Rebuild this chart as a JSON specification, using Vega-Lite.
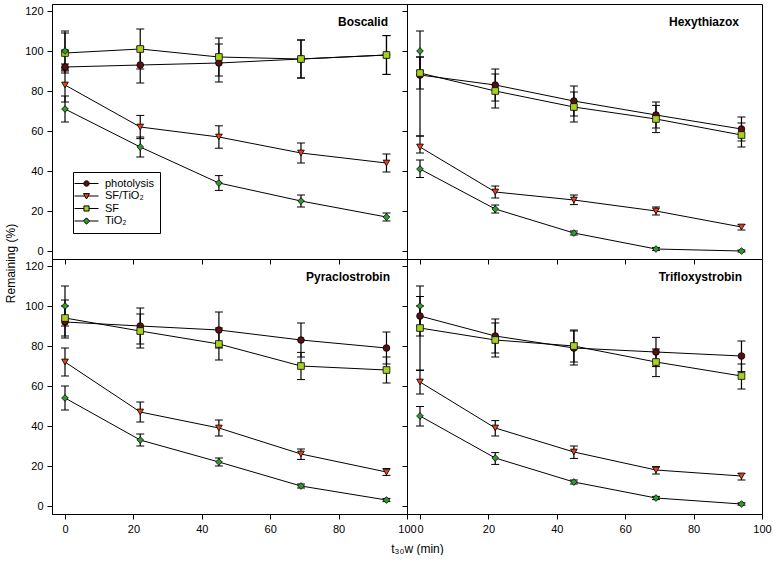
{
  "$schema": "https://vega.github.io/schema/vega-lite/v6.json",
  "padding": {"left": 3, "top": 3, "right": 0, "bottom": 0},
  "data": {"values": [
    {"c":"Boscalid","s":"photolysis","t":0,"v":92,"up":1.5,"dn":-1.5},
    {"c":"Boscalid","s":"photolysis","t":22,"v":93,"up":9,"dn":-9},
    {"c":"Boscalid","s":"photolysis","t":45,"v":94,"up":9.5,"dn":-9.5},
    {"c":"Boscalid","s":"photolysis","t":69,"v":96,"up":9.5,"dn":-9.5},
    {"c":"Boscalid","s":"photolysis","t":94,"v":98,"up":9.7,"dn":-9.7},
    {"c":"Boscalid","s":"SF/TiO₂","t":0,"v":83,"up":8.5,"dn":-8.5},
    {"c":"Boscalid","s":"SF/TiO₂","t":22,"v":62,"up":5.8,"dn":-5.8},
    {"c":"Boscalid","s":"SF/TiO₂","t":45,"v":57,"up":5.6,"dn":-5.6},
    {"c":"Boscalid","s":"SF/TiO₂","t":69,"v":49,"up":5,"dn":-5},
    {"c":"Boscalid","s":"SF/TiO₂","t":94,"v":44,"up":4.5,"dn":-4.5},
    {"c":"Boscalid","s":"SF","t":0,"v":99,"up":10,"dn":-10},
    {"c":"Boscalid","s":"SF","t":22,"v":101,"up":10,"dn":-10},
    {"c":"Boscalid","s":"SF","t":45,"v":97,"up":9.5,"dn":-9.5},
    {"c":"Boscalid","s":"SF","t":69,"v":96,"up":9.5,"dn":-9.5},
    {"c":"Boscalid","s":"SF","t":94,"v":98,"up":9.7,"dn":-9.7},
    {"c":"Boscalid","s":"TiO₂","t":0,"v":71,"up":6.5,"dn":-6.5},
    {"c":"Boscalid","s":"TiO₂","t":22,"v":52,"up":5,"dn":-5},
    {"c":"Boscalid","s":"TiO₂","t":45,"v":34,"up":3.7,"dn":-3.7},
    {"c":"Boscalid","s":"TiO₂","t":69,"v":25,"up":3,"dn":-3},
    {"c":"Boscalid","s":"TiO₂","t":94,"v":17,"up":2,"dn":-2},
    {"c":"Boscalid","s":"TiO₂","t":0,"v":100,"up":10,"dn":-10,"init":1},

    {"c":"Hexythiazox","s":"photolysis","t":0,"v":88,"up":9,"dn":-30.5},
    {"c":"Hexythiazox","s":"photolysis","t":22,"v":83,"up":8,"dn":-8},
    {"c":"Hexythiazox","s":"photolysis","t":45,"v":75,"up":7.5,"dn":-7.5},
    {"c":"Hexythiazox","s":"photolysis","t":69,"v":68,"up":6.5,"dn":-6.5},
    {"c":"Hexythiazox","s":"photolysis","t":94,"v":61,"up":6,"dn":-6},
    {"c":"Hexythiazox","s":"SF/TiO₂","t":0,"v":52,"up":5.5,"dn":-3},
    {"c":"Hexythiazox","s":"SF/TiO₂","t":22,"v":29.5,"up":3,"dn":-3},
    {"c":"Hexythiazox","s":"SF/TiO₂","t":45,"v":25.5,"up":2.5,"dn":-2.3},
    {"c":"Hexythiazox","s":"SF/TiO₂","t":69,"v":20,"up":2,"dn":-2},
    {"c":"Hexythiazox","s":"SF/TiO₂","t":94,"v":12,"up":1.2,"dn":-1.5},
    {"c":"Hexythiazox","s":"SF","t":0,"v":89,"up":8,"dn":-8},
    {"c":"Hexythiazox","s":"SF","t":22,"v":80,"up":8.5,"dn":-8.5},
    {"c":"Hexythiazox","s":"SF","t":45,"v":72,"up":7.5,"dn":-7.5},
    {"c":"Hexythiazox","s":"SF","t":69,"v":66,"up":6.8,"dn":-6.8},
    {"c":"Hexythiazox","s":"SF","t":94,"v":58,"up":6,"dn":-6},
    {"c":"Hexythiazox","s":"TiO₂","t":0,"v":41,"up":4.5,"dn":-4.3},
    {"c":"Hexythiazox","s":"TiO₂","t":22,"v":21,"up":2,"dn":-2},
    {"c":"Hexythiazox","s":"TiO₂","t":45,"v":9,"up":1,"dn":-1},
    {"c":"Hexythiazox","s":"TiO₂","t":69,"v":1,"up":0.7,"dn":-0.7},
    {"c":"Hexythiazox","s":"TiO₂","t":94,"v":0,"up":0.5,"dn":-0.5},
    {"c":"Hexythiazox","s":"TiO₂","t":0,"v":100,"up":10,"dn":-10,"init":1},

    {"c":"Pyraclostrobin","s":"photolysis","t":0,"v":92,"up":8,"dn":-8},
    {"c":"Pyraclostrobin","s":"photolysis","t":22,"v":90,"up":9,"dn":-9},
    {"c":"Pyraclostrobin","s":"photolysis","t":45,"v":88,"up":9,"dn":-9},
    {"c":"Pyraclostrobin","s":"photolysis","t":69,"v":83,"up":8.5,"dn":-8.5},
    {"c":"Pyraclostrobin","s":"photolysis","t":94,"v":79,"up":8,"dn":-8},
    {"c":"Pyraclostrobin","s":"SF/TiO₂","t":0,"v":72,"up":7,"dn":-7},
    {"c":"Pyraclostrobin","s":"SF/TiO₂","t":22,"v":47,"up":5,"dn":-5},
    {"c":"Pyraclostrobin","s":"SF/TiO₂","t":45,"v":39,"up":4,"dn":-4},
    {"c":"Pyraclostrobin","s":"SF/TiO₂","t":69,"v":26,"up":2.5,"dn":-2.7},
    {"c":"Pyraclostrobin","s":"SF/TiO₂","t":94,"v":17,"up":1.7,"dn":-1.7},
    {"c":"Pyraclostrobin","s":"SF","t":0,"v":94,"up":9,"dn":-9},
    {"c":"Pyraclostrobin","s":"SF","t":22,"v":87.5,"up":8.5,"dn":-8.5},
    {"c":"Pyraclostrobin","s":"SF","t":45,"v":81,"up":8,"dn":-8},
    {"c":"Pyraclostrobin","s":"SF","t":69,"v":70,"up":6.8,"dn":-6.8},
    {"c":"Pyraclostrobin","s":"SF","t":94,"v":68,"up":6.5,"dn":-6.5},
    {"c":"Pyraclostrobin","s":"TiO₂","t":0,"v":54,"up":6,"dn":-6},
    {"c":"Pyraclostrobin","s":"TiO₂","t":22,"v":33,"up":3,"dn":-3},
    {"c":"Pyraclostrobin","s":"TiO₂","t":45,"v":22,"up":2,"dn":-2},
    {"c":"Pyraclostrobin","s":"TiO₂","t":69,"v":10,"up":1,"dn":-1},
    {"c":"Pyraclostrobin","s":"TiO₂","t":94,"v":3,"up":0.8,"dn":-0.8},
    {"c":"Pyraclostrobin","s":"TiO₂","t":0,"v":100,"up":10,"dn":-10,"init":1},

    {"c":"Trifloxystrobin","s":"photolysis","t":0,"v":95,"up":9.7,"dn":-10},
    {"c":"Trifloxystrobin","s":"photolysis","t":22,"v":85,"up":8.5,"dn":-8.5},
    {"c":"Trifloxystrobin","s":"photolysis","t":45,"v":79,"up":8.5,"dn":-8.5},
    {"c":"Trifloxystrobin","s":"photolysis","t":69,"v":77,"up":7.3,"dn":-7.3},
    {"c":"Trifloxystrobin","s":"photolysis","t":94,"v":75,"up":7.5,"dn":-7.8},
    {"c":"Trifloxystrobin","s":"SF/TiO₂","t":0,"v":62,"up":5.7,"dn":-6},
    {"c":"Trifloxystrobin","s":"SF/TiO₂","t":22,"v":39,"up":3.7,"dn":-4},
    {"c":"Trifloxystrobin","s":"SF/TiO₂","t":45,"v":27,"up":3,"dn":-3.2},
    {"c":"Trifloxystrobin","s":"SF/TiO₂","t":69,"v":18,"up":1.7,"dn":-2},
    {"c":"Trifloxystrobin","s":"SF/TiO₂","t":94,"v":15,"up":1.3,"dn":-2},
    {"c":"Trifloxystrobin","s":"SF","t":0,"v":89,"up":11,"dn":-21},
    {"c":"Trifloxystrobin","s":"SF","t":22,"v":83,"up":8.5,"dn":-8.5},
    {"c":"Trifloxystrobin","s":"SF","t":45,"v":80,"up":8,"dn":-8},
    {"c":"Trifloxystrobin","s":"SF","t":69,"v":72,"up":6.5,"dn":-7.3},
    {"c":"Trifloxystrobin","s":"SF","t":94,"v":65,"up":6,"dn":-6.5},
    {"c":"Trifloxystrobin","s":"TiO₂","t":0,"v":45,"up":4.7,"dn":-5},
    {"c":"Trifloxystrobin","s":"TiO₂","t":22,"v":24,"up":2.7,"dn":-3.2},
    {"c":"Trifloxystrobin","s":"TiO₂","t":45,"v":12,"up":1,"dn":-1},
    {"c":"Trifloxystrobin","s":"TiO₂","t":69,"v":4,"up":0.8,"dn":-0.8},
    {"c":"Trifloxystrobin","s":"TiO₂","t":94,"v":1,"up":0.6,"dn":-0.6},
    {"c":"Trifloxystrobin","s":"TiO₂","t":0,"v":100,"up":10,"dn":-10,"init":1}
  ]},
  "columns": 2,
  "spacing": 0,
  "bounds": "flush",
  "concat": [
    {
      "width": 355, "height": 255,
      "title": {"text": "Boscalid", "anchor": "end", "frame": "group", "offset": -30, "baseline": "middle", "dx": -19},
      "transform": [{"filter": "datum.c == 'Boscalid'"}],
      "encoding": {
        "x": {"field": "t", "type": "quantitative", "scale": {"domain": [-3.8, 100], "nice": false, "zero": false},
              "axis": {"values": [0,20,40,60,80,100], "labels": false, "title": null}},
        "y": {"field": "v", "type": "quantitative", "scale": {"domain": [-4, 123.5], "nice": false, "zero": false},
              "axis": {"values": [0,20,40,60,80,100,120], "title": "Remaining (%)", "titleX": -42, "titleY": 259, "titleBaseline": "middle"}}
      },
      "layer": [
        {"mark": {"type": "errorbar", "color": "black", "ticks": {"size": 8, "color": "black", "strokeWidth": 1.2, "opacity": 1}, "rule": {"color": "black", "strokeWidth": 1.2, "opacity": 1}},
         "encoding": {"yError": {"field": "up"}, "yError2": {"field": "dn"}}},
        {"transform": [{"filter": "!datum.init"}], "mark": {"type": "line", "color": "black", "strokeWidth": 1},
         "encoding": {"detail": {"field": "s"}}},
        {"mark": {"type": "point", "filled": true, "opacity": 1, "stroke": "black", "strokeWidth": 0.8, "size": 45},
         "encoding": {
           "color": {"field": "s", "type": "nominal",
             "scale": {"domain": ["photolysis","SF/TiO₂","SF","TiO₂"], "range": ["#5a1010","#e8401c","#a8d020","#2e9a2e"]},
             "legend": {"title": null, "orient": "none", "legendX": 21, "legendY": 168, "strokeColor": "black", "fillColor": "white",
               "padding": 6, "symbolSize": 36, "labelFontSize": 11, "labelColor": "black", "labelOffset": 13, "symbolOffset": 2, "rowPadding": 0.5,
               "symbolStrokeColor": "black", "symbolStrokeWidth": 1,
               "encoding": {"symbols": {"stroke": {"value": "black"}, "shape": {"value": {"expr": "datum.value == 'photolysis' ? 'M-4,0H-0.9M0.9,0H4M0.9,0A0.9,0.9 0 1 1 -0.9,0A0.9,0.9 0 1 1 0.9,0Z' : datum.value == 'SF' ? 'M-4,0H-0.85M0.85,0H4M-0.85,-0.85H0.85V0.85H-0.85Z' : datum.value == 'TiO₂' ? 'M-4,0H-1.05M1.05,0H4M0,-1.05L1.05,0L0,1.05L-1.05,0Z' : 'M-4,0H-0.5M0.5,0H4M-1,-0.8L1,-0.8L0,1Z'"}}}}}},
           "shape": {"field": "s", "type": "nominal",
             "scale": {"domain": ["photolysis","SF/TiO₂","SF","TiO₂","-"], "range": ["circle","triangle-down","square","diamond","circle"]}, "legend": null}
         }}
      ]
    },
    {
      "width": 355, "height": 255,
      "title": {"text": "Hexythiazox", "anchor": "end", "frame": "group", "offset": -30, "baseline": "middle", "dx": -23},
      "transform": [{"filter": "datum.c == 'Hexythiazox'"}],
      "encoding": {
        "x": {"field": "t", "type": "quantitative", "scale": {"domain": [-3.8, 100], "nice": false, "zero": false},
              "axis": {"values": [0,20,40,60,80,100], "labels": false, "title": null}},
        "y": {"field": "v", "type": "quantitative", "scale": {"domain": [-4, 123.5], "nice": false, "zero": false},
              "axis": {"values": [0,20,40,60,80,100,120], "labels": false, "title": null}}
      },
      "layer": [
        {"mark": {"type": "errorbar", "color": "black", "ticks": {"size": 8, "color": "black", "strokeWidth": 1.2, "opacity": 1}, "rule": {"color": "black", "strokeWidth": 1.2, "opacity": 1}},
         "encoding": {"yError": {"field": "up"}, "yError2": {"field": "dn"}}},
        {"transform": [{"filter": "!datum.init"}], "mark": {"type": "line", "color": "black", "strokeWidth": 1},
         "encoding": {"detail": {"field": "s"}}},
        {"mark": {"type": "point", "filled": true, "opacity": 1, "stroke": "black", "strokeWidth": 0.8, "size": 45},
         "encoding": {
           "color": {"field": "s", "type": "nominal",
             "scale": {"domain": ["photolysis","SF/TiO₂","SF","TiO₂"], "range": ["#5a1010","#e8401c","#a8d020","#2e9a2e"]}, "legend": null},
           "shape": {"field": "s", "type": "nominal",
             "scale": {"domain": ["photolysis","SF/TiO₂","SF","TiO₂","-"], "range": ["circle","triangle-down","square","diamond","circle"]}, "legend": null}
         }}
      ]
    },
    {
      "width": 355, "height": 255,
      "title": {"text": "Pyraclostrobin", "anchor": "end", "frame": "group", "offset": -30, "baseline": "middle", "dx": -17},
      "transform": [{"filter": "datum.c == 'Pyraclostrobin'"}],
      "encoding": {
        "x": {"field": "t", "type": "quantitative", "scale": {"domain": [-3.8, 100], "nice": false, "zero": false},
              "axis": {"values": [0,20,40,60,80,100], "title": "t₃₀w (min)", "titleX": 365, "titleY": 34, "titleBaseline": "middle"}},
        "y": {"field": "v", "type": "quantitative", "scale": {"domain": [-4, 123.5], "nice": false, "zero": false},
              "axis": {"values": [0,20,40,60,80,100,120], "title": null}}
      },
      "layer": [
        {"mark": {"type": "errorbar", "color": "black", "ticks": {"size": 8, "color": "black", "strokeWidth": 1.2, "opacity": 1}, "rule": {"color": "black", "strokeWidth": 1.2, "opacity": 1}},
         "encoding": {"yError": {"field": "up"}, "yError2": {"field": "dn"}}},
        {"transform": [{"filter": "!datum.init"}], "mark": {"type": "line", "color": "black", "strokeWidth": 1},
         "encoding": {"detail": {"field": "s"}}},
        {"mark": {"type": "point", "filled": true, "opacity": 1, "stroke": "black", "strokeWidth": 0.8, "size": 45},
         "encoding": {
           "color": {"field": "s", "type": "nominal",
             "scale": {"domain": ["photolysis","SF/TiO₂","SF","TiO₂"], "range": ["#5a1010","#e8401c","#a8d020","#2e9a2e"]}, "legend": null},
           "shape": {"field": "s", "type": "nominal",
             "scale": {"domain": ["photolysis","SF/TiO₂","SF","TiO₂","-"], "range": ["circle","triangle-down","square","diamond","circle"]}, "legend": null}
         }}
      ]
    },
    {
      "width": 355, "height": 255,
      "title": {"text": "Trifloxystrobin", "anchor": "end", "frame": "group", "offset": -30, "baseline": "middle", "dx": -20},
      "transform": [{"filter": "datum.c == 'Trifloxystrobin'"}],
      "encoding": {
        "x": {"field": "t", "type": "quantitative", "scale": {"domain": [-3.8, 100], "nice": false, "zero": false},
              "axis": {"values": [0,20,40,60,80,100], "title": null}},
        "y": {"field": "v", "type": "quantitative", "scale": {"domain": [-4, 123.5], "nice": false, "zero": false},
              "axis": {"values": [0,20,40,60,80,100,120], "labels": false, "title": null}}
      },
      "layer": [
        {"mark": {"type": "errorbar", "color": "black", "ticks": {"size": 8, "color": "black", "strokeWidth": 1.2, "opacity": 1}, "rule": {"color": "black", "strokeWidth": 1.2, "opacity": 1}},
         "encoding": {"yError": {"field": "up"}, "yError2": {"field": "dn"}}},
        {"transform": [{"filter": "!datum.init"}], "mark": {"type": "line", "color": "black", "strokeWidth": 1},
         "encoding": {"detail": {"field": "s"}}},
        {"mark": {"type": "point", "filled": true, "opacity": 1, "stroke": "black", "strokeWidth": 0.8, "size": 45},
         "encoding": {
           "color": {"field": "s", "type": "nominal",
             "scale": {"domain": ["photolysis","SF/TiO₂","SF","TiO₂"], "range": ["#5a1010","#e8401c","#a8d020","#2e9a2e"]}, "legend": null},
           "shape": {"field": "s", "type": "nominal",
             "scale": {"domain": ["photolysis","SF/TiO₂","SF","TiO₂","-"], "range": ["circle","triangle-down","square","diamond","circle"]}, "legend": null}
         }}
      ]
    }
  ],
  "config": {
    "font": "Liberation Sans",
    "view": {"stroke": "black", "strokeWidth": 1},
    "title": {"fontSize": 12, "fontWeight": "bold", "color": "black", "font": "Liberation Sans"},
    "axis": {"domainColor": "black", "tickColor": "black", "labelColor": "black", "titleColor": "black", "grid": false,
             "tickSize": 5, "labelFontSize": 11, "labelPadding": 4, "labelFlush": false, "labelOverlap": false,
             "titleFontSize": 12, "titleFontWeight": "normal"}
  }
}
